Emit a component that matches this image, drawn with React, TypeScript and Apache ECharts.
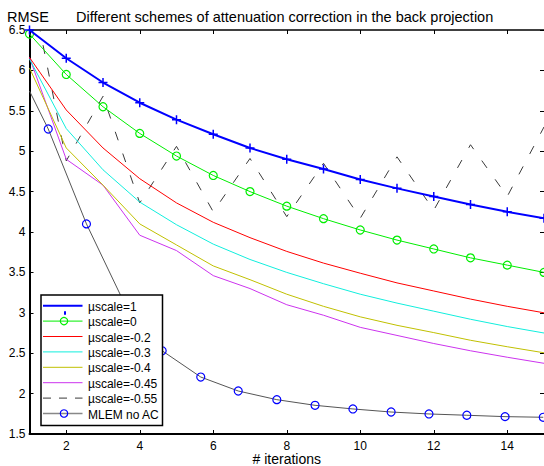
import React, { useEffect, useRef } from "react";
import * as echarts from "echarts";

// ---- data ----
const iterations = [1, 2, 3, 4, 5, 6, 7, 8, 9, 10, 11, 12, 13, 14, 15];
const muScale1 = [6.5, 6.15, 5.85, 5.6, 5.39, 5.21, 5.04, 4.9, 4.78, 4.65, 4.54, 4.44, 4.34, 4.25, 4.17];
const muScale0 = [6.45, 5.95, 5.55, 5.22, 4.94, 4.7, 4.5, 4.32, 4.165, 4.025, 3.9, 3.79, 3.68, 3.59, 3.5];
const muScaleM02 = [6.16, 5.51, 5.04, 4.66, 4.36, 4.12, 3.93, 3.76, 3.615, 3.49, 3.37, 3.27, 3.17, 3.08, 3.0];
const muScaleM03 = [6.14, 5.28, 4.77, 4.37, 4.09, 3.85, 3.66, 3.5, 3.36, 3.23, 3.12, 3.02, 2.92, 2.83, 2.75];
const muScaleM04 = [6.03, 5.04, 4.58, 4.1, 3.84, 3.58, 3.41, 3.23, 3.08, 2.95, 2.845, 2.755, 2.66, 2.58, 2.505];
const muScaleM045 = [6.16, 4.9, 4.58, 3.96, 3.77, 3.46, 3.3, 3.1, 2.97, 2.82, 2.72, 2.62, 2.53, 2.45, 2.375];
const muScaleM055 = [7.15, 4.88, 5.68, 4.36, 5.06, 4.25, 4.91, 4.19, 4.85, 4.17, 4.93, 4.27, 5.08, 4.44, 5.3];
const mlemIterations = [1, 1.51, 2.55, 3.57, 4.61, 5.66, 6.68, 7.73, 8.77, 9.8, 10.84, 11.87, 12.9, 13.94, 14.98];
const mlemRmse = [5.745, 5.275, 4.1, 3.13, 2.53, 2.205, 2.032, 1.925, 1.855, 1.81, 1.772, 1.748, 1.732, 1.715, 1.707];

const xTicks = [2, 4, 6, 8, 10, 12, 14];
const seriesNames = [
  "µscale=1",
  "µscale=0",
  "µscale=-0.2",
  "µscale=-0.3",
  "µscale=-0.4",
  "µscale=-0.45",
  "µscale=-0.55",
  "MLEM no AC",
];
const titleText = "Different schemes of attenuation correction in the back projection";
const yName = "RMSE";
const xName = "# iterations";

const FONT = "'Liberation Sans', Arial, Helvetica, sans-serif";
const PLUS = "path://M4,0h1.6v4h4v1.6h-4v4h-1.6v-4h-4v-1.6h4z";

const styles = [
  { color: "#0000ff", width: 2, symbol: PLUS, symbolSize: 9, dash: "solid" },
  { color: "#00ee00", width: 1, symbol: "circle", symbolSize: 8, dash: "solid" },
  { color: "#ff0000", width: 1, symbol: "none", symbolSize: 0, dash: "solid" },
  { color: "#11eedd", width: 1, symbol: "none", symbolSize: 0, dash: "solid" },
  { color: "#c0c000", width: 1, symbol: "none", symbolSize: 0, dash: "solid" },
  { color: "#cc33ee", width: 1, symbol: "none", symbolSize: 0, dash: "solid" },
  { color: "#3a3a3a", width: 1, symbol: "none", symbolSize: 0, dash: [9, 14], legendDash: [8, 8] },
  { color: "#555555", width: 1, symbol: "circle", symbolSize: 8, dash: "solid", markerColor: "#0000ff" },
];

const seriesValues = [muScale1, muScale0, muScaleM02, muScaleM03, muScaleM04, muScaleM045, muScaleM055];

export default function App() {
  const ref = useRef<HTMLDivElement>(null);
  useEffect(() => {
    if (!ref.current) return;
    const chart = echarts.init(ref.current, undefined, { renderer: "svg" });

    const series: any[] = seriesValues.map((vals, i) => {
      const s: any = styles[i];
      const isCircle = s.symbol === "circle";
      return {
        name: seriesNames[i],
        type: "line",
        data: iterations.map((x, j) => [x, vals[j]]),
        symbol: s.symbol,
        symbolSize: s.symbolSize,
        showSymbol: s.symbol !== "none",
        clip: true,
        lineStyle: { color: s.color, width: s.width, type: s.dash },
        itemStyle: isCircle
          ? { color: "rgba(0,0,0,0)", borderColor: s.color, borderWidth: 1.2 }
          : { color: s.color, borderWidth: 0 },
        z: 10 - i,
      };
    });
    const ms: any = styles[7];
    series.push({
      name: seriesNames[7],
      type: "line",
      data: mlemIterations.map((x, j) =>
        j === 0 ? { value: [x, mlemRmse[j]], symbol: "none" } : [x, mlemRmse[j]]
      ),
      symbol: "circle",
      symbolSize: ms.symbolSize,
      clip: true,
      lineStyle: { color: ms.color, width: ms.width },
      itemStyle: { color: "rgba(0,0,0,0)", borderColor: ms.markerColor, borderWidth: 1.2 },
      z: 11,
    });

    // legend drawn as graphic
    const lgX = 41, lgY = 295, lgW = 121.5, lgH = 130.5;
    const rowY0 = 305.7, rowGap = 15.4;
    const legendEls: any[] = [
      {
        type: "rect",
        shape: { x: lgX, y: lgY, width: lgW, height: lgH },
        style: { fill: "#fff", stroke: "#000", lineWidth: 1.5 },
        z: 100,
      },
    ];
    seriesNames.forEach((name, i) => {
      const s: any = styles[i];
      const y = rowY0 + i * rowGap;
      legendEls.push({
        type: "line",
        shape: { x1: 43, y1: y, x2: 82.5, y2: y },
        style: {
          stroke: i === 7 ? "#888" : s.color,
          lineWidth: i === 7 ? 1.5 : s.width,
          lineDash: s.legendDash || null,
        },
        z: 101,
      });
      if (s.symbol === "circle") {
        legendEls.push({
          type: "circle",
          shape: { cx: 64, cy: y, r: 3.7 },
          style: { fill: "none", stroke: s.markerColor || s.color, lineWidth: 1.2 },
          z: 102,
        });
      }
      legendEls.push({
        type: "text",
        x: 88,
        y: y + 1,
        style: {
          text: name,
          fill: "#000",
          font: `12px ${FONT}`,
          verticalAlign: "middle",
          align: "left",
        },
        z: 102,
      });
    });
    legendEls.push({
      type: "rect",
      shape: { x: 64, y: 311.3, width: 2, height: 3.4 },
      style: { fill: "#0000ff" },
      z: 102,
    });

    const axisLabelStyle = { color: "#000", fontSize: 12, fontFamily: FONT, lineHeight: 12 };

    chart.setOption({
      animation: false,
      backgroundColor: "#fff",
      title: [
        {
          text: yName,
          left: 7,
          top: 9,
          padding: 0,
          textStyle: { fontSize: 14.5, fontWeight: "normal", fontFamily: FONT, color: "#000" },
        },
        {
          text: titleText,
          left: 76,
          top: 9,
          padding: 0,
          textStyle: { fontSize: 14.5, fontWeight: "normal", fontFamily: FONT, color: "#000" },
        },
      ],
      grid: { left: 29.5, top: 30, width: 514.5, height: 404, containLabel: false, outerBoundsMode: "none" },
      xAxis: [
        {
          type: "value",
          min: 1,
          max: 15,
          position: "bottom",
          name: xName,
          nameLocation: "middle",
          nameGap: 19,
          nameMoveOverlap: false,
          nameTextStyle: { color: "#000", fontSize: 14, fontFamily: FONT, lineHeight: 12 },
          axisLine: { show: true, onZero: false, lineStyle: { color: "#000", width: 2 } },
          axisTick: { show: true, inside: true, length: 4, customValues: xTicks, lineStyle: { color: "#000" } },
          axisLabel: { show: true, margin: 6, customValues: xTicks, ...axisLabelStyle },
          splitLine: { show: false },
        },
        {
          type: "value",
          min: 1,
          max: 15,
          position: "top",
          axisLine: { show: true, onZero: false, lineStyle: { color: "#000", width: 1.5 } },
          axisTick: { show: true, inside: true, length: 4, customValues: xTicks, lineStyle: { color: "#000" } },
          axisLabel: { show: false },
          splitLine: { show: false },
        },
      ],
      yAxis: [
        {
          type: "value",
          min: 1.5,
          max: 6.5,
          interval: 0.5,
          position: "left",
          axisLine: { show: true, onZero: false, lineStyle: { color: "#000", width: 2 } },
          axisTick: { show: true, inside: true, length: 4, lineStyle: { color: "#000" } },
          axisLabel: { show: true, margin: 4, ...axisLabelStyle },
          splitLine: { show: false },
        },
        {
          type: "value",
          min: 1.5,
          max: 6.5,
          interval: 0.5,
          position: "right",
          axisLine: { show: false },
          axisTick: { show: true, inside: true, length: 4, lineStyle: { color: "#000" } },
          axisLabel: { show: false },
          splitLine: { show: false },
        },
      ],
      series,
      graphic: legendEls,
    });
    return () => chart.dispose();
  }, []);
  return (
    <div
      ref={ref}
      style={{ position: "fixed", left: 0, top: 0, width: 544, height: 466, background: "#fff" }}
    />
  );
}
